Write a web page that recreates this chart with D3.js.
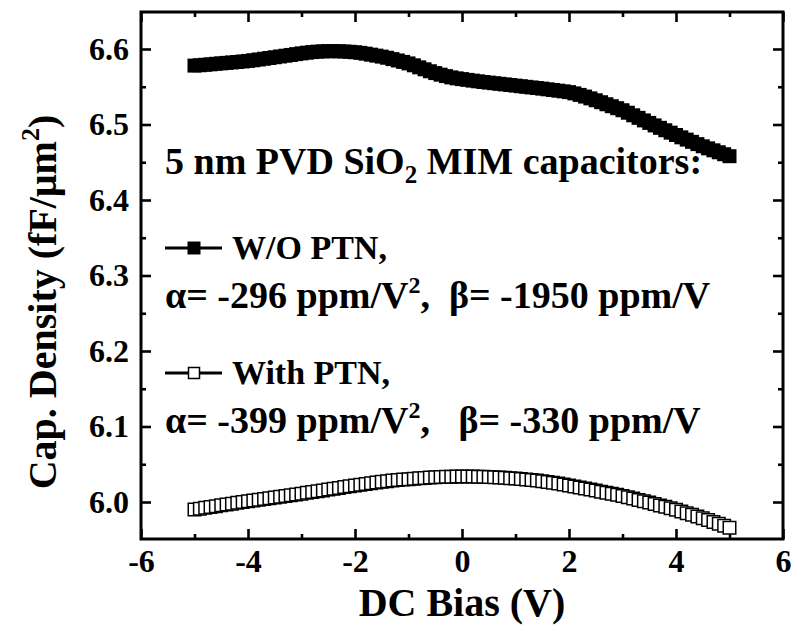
<!DOCTYPE html>
<html>
<head>
<meta charset="utf-8">
<script src="https://cdn.jsdelivr.net/npm/d3@7"></script>
<style>
  html, body { margin: 0; padding: 0; background: #fff; }
</style>
</head>
<body>
<svg id="chart" width="792" height="638"></svg>
<script>
// DC bias sweep (V), 0.1 V steps
const biasV = [
  -5.0,-4.9,-4.8,-4.7,-4.6,-4.5,-4.4,-4.3,-4.2,-4.1,
  -4.0,-3.9,-3.8,-3.7,-3.6,-3.5,-3.4,-3.3,-3.2,-3.1,
  -3.0,-2.9,-2.8,-2.7,-2.6,-2.5,-2.4,-2.3,-2.2,-2.1,
  -2.0,-1.9,-1.8,-1.7,-1.6,-1.5,-1.4,-1.3,-1.2,-1.1,
  -1.0,-0.9,-0.8,-0.7,-0.6,-0.5,-0.4,-0.3,-0.2,-0.1,
   0.0, 0.1, 0.2, 0.3, 0.4, 0.5, 0.6, 0.7, 0.8, 0.9,
   1.0, 1.1, 1.2, 1.3, 1.4, 1.5, 1.6, 1.7, 1.8, 1.9,
   2.0, 2.1, 2.2, 2.3, 2.4, 2.5, 2.6, 2.7, 2.8, 2.9,
   3.0, 3.1, 3.2, 3.3, 3.4, 3.5, 3.6, 3.7, 3.8, 3.9,
   4.0, 4.1, 4.2, 4.3, 4.4, 4.5, 4.6, 4.7, 4.8, 4.9,
   5.0
];

// Capacitance density (fF/um^2) without PTN treatment
const capWithoutPTN = [
  6.5780,6.5785,6.5791,6.5797,6.5804,6.5810,6.5816,6.5822,6.5828,6.5835,
  6.5842,6.5851,6.5861,6.5871,6.5881,6.5891,6.5901,6.5911,6.5921,6.5932,
  6.5942,6.5951,6.5959,6.5965,6.5969,6.5971,6.5971,6.5970,6.5967,6.5963,
  6.5957,6.5949,6.5938,6.5925,6.5912,6.5899,6.5884,6.5866,6.5848,6.5829,
  6.5809,6.5784,6.5757,6.5731,6.5705,6.5681,6.5660,6.5641,6.5624,6.5611,
  6.5601,6.5591,6.5581,6.5572,6.5563,6.5555,6.5547,6.5539,6.5531,6.5523,
  6.5515,6.5507,6.5499,6.5491,6.5483,6.5475,6.5466,6.5457,6.5448,6.5439,
  6.5429,6.5412,6.5392,6.5370,6.5346,6.5321,6.5295,6.5268,6.5242,6.5216,
  6.5189,6.5156,6.5122,6.5088,6.5054,6.5021,6.4988,6.4956,6.4924,6.4892,
  6.4861,6.4830,6.4800,6.4770,6.4740,6.4711,6.4684,6.4658,6.4632,6.4606,
  6.4580
];

// Capacitance density (fF/um^2) with PTN treatment
const capWithPTN = [
  5.9900,5.9912,5.9923,5.9934,5.9945,5.9956,5.9967,5.9978,5.9989,5.9999,
  6.0010,6.0020,6.0030,6.0040,6.0050,6.0060,6.0070,6.0080,6.0090,6.0100,
  6.0110,6.0121,6.0132,6.0143,6.0154,6.0165,6.0176,6.0187,6.0198,6.0209,
  6.0220,6.0230,6.0240,6.0250,6.0259,6.0268,6.0276,6.0284,6.0291,6.0297,
  6.0303,6.0309,6.0314,6.0319,6.0323,6.0327,6.0330,6.0333,6.0335,6.0337,
  6.0338,6.0338,6.0337,6.0336,6.0334,6.0331,6.0328,6.0324,6.0320,6.0315,
  6.0310,6.0304,6.0298,6.0291,6.0284,6.0276,6.0266,6.0256,6.0245,6.0233,
  6.0220,6.0207,6.0193,6.0179,6.0165,6.0151,6.0137,6.0123,6.0109,6.0095,
  6.0080,6.0063,6.0046,6.0028,6.0010,5.9992,5.9974,5.9955,5.9936,5.9916,
  5.9896,5.9874,5.9852,5.9830,5.9807,5.9784,5.9760,5.9736,5.9711,5.9686,
  5.9660
];

const xMajorTicks = [-6, -4, -2, 0, 2, 4, 6];
const xMinorTicks = [-5, -3, -1, 1, 3, 5];
const yMajorTicks = [6.0, 6.1, 6.2, 6.3, 6.4, 6.5, 6.6];
const yMinorTicks = [6.05, 6.15, 6.25, 6.35, 6.45, 6.55];

const FONT = '"Liberation Serif", serif';

const svg = d3.select("#chart");
const plotL = 141, plotR = 783, plotT = 12, plotB = 539;

const x = d3.scaleLinear().domain([-6, 6]).range([plotL, plotR]);
const y = d3.scaleLinear().domain([5.951, 6.649]).range([plotB, plotT]);

// plain hyphen-minus for negative tick values
const fmtX = d => String(d);
const fmtY = d => d.toFixed(1);

// ---- axes (ticks point inward, mirrored on top/right) ----
function styleAxis(g) {
  g.attr("font-family", null).attr("font-size", null);
  g.select(".domain").remove();
  g.selectAll(".tick line").attr("stroke", "#000").attr("stroke-width", 2.6);
  g.selectAll(".tick text")
    .style("font-family", FONT).style("font-weight", "bold")
    .style("font-size", "32px").attr("fill", "#000");
}

svg.append("g").attr("transform", `translate(0,${plotB})`)
  .call(d3.axisBottom(x).tickValues(xMajorTicks).tickSize(-10).tickPadding(10).tickFormat(fmtX))
  .call(styleAxis);
svg.append("g").attr("transform", `translate(0,${plotB})`)
  .call(d3.axisBottom(x).tickValues(xMinorTicks).tickSize(-5).tickFormat(""))
  .call(styleAxis);
svg.append("g").attr("transform", `translate(0,${plotT})`)
  .call(d3.axisTop(x).tickValues(xMajorTicks).tickSize(-10).tickFormat(""))
  .call(styleAxis);
svg.append("g").attr("transform", `translate(0,${plotT})`)
  .call(d3.axisTop(x).tickValues(xMinorTicks).tickSize(-5).tickFormat(""))
  .call(styleAxis);

svg.append("g").attr("transform", `translate(${plotL},0)`)
  .call(d3.axisLeft(y).tickValues(yMajorTicks).tickSize(-10).tickPadding(12).tickFormat(fmtY))
  .call(styleAxis);
svg.append("g").attr("transform", `translate(${plotL},0)`)
  .call(d3.axisLeft(y).tickValues(yMinorTicks).tickSize(-5).tickFormat(""))
  .call(styleAxis);
svg.append("g").attr("transform", `translate(${plotR},0)`)
  .call(d3.axisRight(y).tickValues(yMajorTicks).tickSize(-10).tickFormat(""))
  .call(styleAxis);
svg.append("g").attr("transform", `translate(${plotR},0)`)
  .call(d3.axisRight(y).tickValues(yMinorTicks).tickSize(-5).tickFormat(""))
  .call(styleAxis);

// frame
svg.append("rect")
  .attr("x", plotL).attr("y", plotT)
  .attr("width", plotR - plotL).attr("height", plotB - plotT)
  .attr("fill", "none").attr("stroke", "#000").attr("stroke-width", 3);

function txt(sel, size) {
  return sel.style("font-family", FONT).style("font-weight", "bold")
    .style("font-size", size + "px").attr("fill", "#000");
}

// ---- axis titles ----
txt(svg.append("text"), 40)
  .attr("x", (plotL + plotR) / 2).attr("y", 616)
  .attr("text-anchor", "middle")
  .text("DC Bias (V)");

const yTitle = txt(svg.append("text"), 40)
  .attr("transform", `translate(56,302) rotate(-90)`)
  .attr("text-anchor", "middle");
yTitle.append("tspan").text("Cap. Density (fF/\u03BCm");
yTitle.append("tspan").attr("dy", -17).style("font-size", "26px").text("2");
yTitle.append("tspan").attr("dy", 17).text(")");

// ---- data series ----
const seriesA = biasV.map((v, i) => [v, capWithoutPTN[i]]);
const seriesB = biasV.map((v, i) => [v, capWithPTN[i]]);
const line = d3.line().x(d => x(d[0])).y(d => y(d[1]));
const square = d3.symbol().type(d3.symbolSquare).size(14 * 14);
const squareOpen = d3.symbol().type(d3.symbolSquare).size(12.5 * 12.5);

svg.append("path").datum(seriesA).attr("d", line)
  .attr("fill", "none").attr("stroke", "#000").attr("stroke-width", 2);
svg.append("g").selectAll("path").data(seriesA).join("path")
  .attr("d", square)
  .attr("transform", d => `translate(${x(d[0])},${y(d[1])})`)
  .attr("fill", "#000");

svg.append("path").datum(seriesB).attr("d", line)
  .attr("fill", "none").attr("stroke", "#000").attr("stroke-width", 2);
svg.append("g").selectAll("path").data(seriesB).join("path")
  .attr("d", squareOpen)
  .attr("transform", d => `translate(${x(d[0])},${y(d[1])})`)
  .attr("fill", "#fff").attr("stroke", "#000").attr("stroke-width", 1.5);

// ---- annotation / legend ----
const header = txt(svg.append("text"), 38).attr("x", 165).attr("y", 174)
  .style("white-space", "pre");
header.append("tspan").text("5 nm PVD SiO");
header.append("tspan").attr("dy", 9).style("font-size", "25px").text("2");
header.append("tspan").attr("dy", -9).text(" MIM capacitors:");

function legendEntry(yLine, filled, label, alphaTxt, betaTxt, yAlpha) {
  svg.append("line").attr("x1", 165).attr("x2", 222).attr("y1", yLine).attr("y2", yLine)
    .attr("stroke", "#000").attr("stroke-width", 3);
  svg.append("path")
    .attr("d", d3.symbol().type(d3.symbolSquare).size(filled ? 13 * 13 : 11 * 11))
    .attr("transform", `translate(194,${yLine})`)
    .attr("fill", filled ? "#000" : "#fff")
    .attr("stroke", "#000").attr("stroke-width", filled ? 0 : 1.5);
  txt(svg.append("text"), 34).attr("x", 232).attr("y", yLine + 11).text(label);
  const t = txt(svg.append("text"), 38).attr("x", 165).attr("y", yAlpha)
    .style("white-space", "pre");
  t.append("tspan").text(alphaTxt);
  t.append("tspan").attr("dy", -15).style("font-size", "24px").text("2");
  t.append("tspan").attr("dy", 15).text(betaTxt);
}

legendEntry(248, true, "W/O PTN,", "\u03B1= -296 ppm/V", ",  \u03B2= -1950 ppm/V", 308);
legendEntry(373, false, "With PTN,", "\u03B1= -399 ppm/V", ",   \u03B2= -330 ppm/V", 433);
</script>
</body>
</html>
